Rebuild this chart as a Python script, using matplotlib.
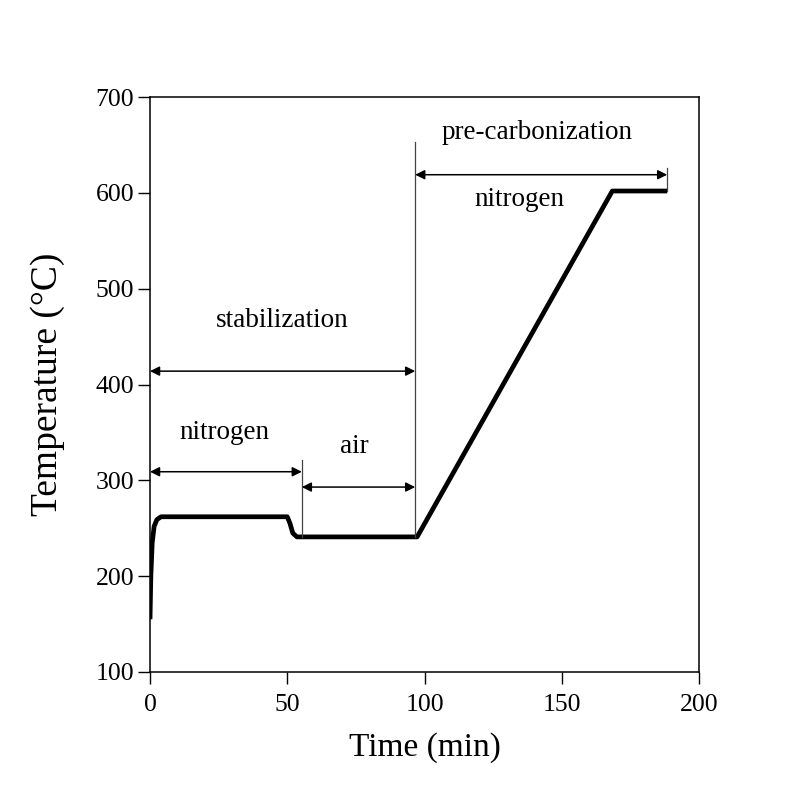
import matplotlib
matplotlib.use("Agg")
import matplotlib.pyplot as plt

plt.rcParams['font.family'] = ['Liberation Serif', 'DejaVu Serif']

# temperature program
time_min = [0, 0.3, 0.8, 1.5, 2.5, 4, 50, 51, 52, 53.5, 97.3, 168.4, 188.4]
temp_c = [155, 200, 235, 252, 259, 262, 262, 255, 245, 241, 241, 602, 602]

# stage boundaries (min) and where their guide lines stop (degC)
bound_t = [55.3, 96.6, 188.4]
bound_top = [321, 653, 626]
bound_bot = [241, 241, 602]

# double arrows: (start, end, level)
arrows = [(0, 96.6, 414), (0, 55.3, 309), (55.3, 96.6, 293), (96.6, 188.4, 619)]

# labels: (text, x, y)
labels = [("pre-carbonization", 141, 663), ("nitrogen", 134.5, 593),
          ("stabilization", 48, 467), ("nitrogen", 27, 350), ("air", 74.5, 335)]

fig = plt.figure(figsize=(7.95, 7.96), dpi=100)
ax = fig.add_axes([0.1887, 0.1558, 0.6906, 0.7222])

ax.plot(time_min, temp_c, color='black', lw=3.4, solid_capstyle='butt', solid_joinstyle='round')

for t, top, bot in zip(bound_t, bound_top, bound_bot):
    ax.plot([t, t], [bot, top], color='#444444', lw=0.9)

for a, b, y in arrows:
    ax.annotate('', xy=(b, y), xytext=(a, y),
                arrowprops=dict(arrowstyle='<|-|>', color='black', lw=1.1,
                                mutation_scale=14, shrinkA=0, shrinkB=0))

for txt, x, y in labels:
    ax.text(x, y, txt, ha='center', va='center', fontsize=19.5)

ax.set_xlim(0, 200)
ax.set_ylim(100, 700)
ax.set_xticks([0, 50, 100, 150, 200])
ax.set_yticks([100, 200, 300, 400, 500, 600, 700])
ax.tick_params(direction='out', length=8.5, width=1, labelsize=18.5)
ax.tick_params(axis='x', pad=7)
ax.tick_params(axis='y', pad=3)
for s in ax.spines.values():
    s.set_linewidth(1.1)

ax.set_xlabel('Time (min)', fontsize=24, labelpad=12)
ax.set_ylabel('Temperature (°C)', fontsize=27, labelpad=22)

fig.savefig('out.png', dpi=100)
